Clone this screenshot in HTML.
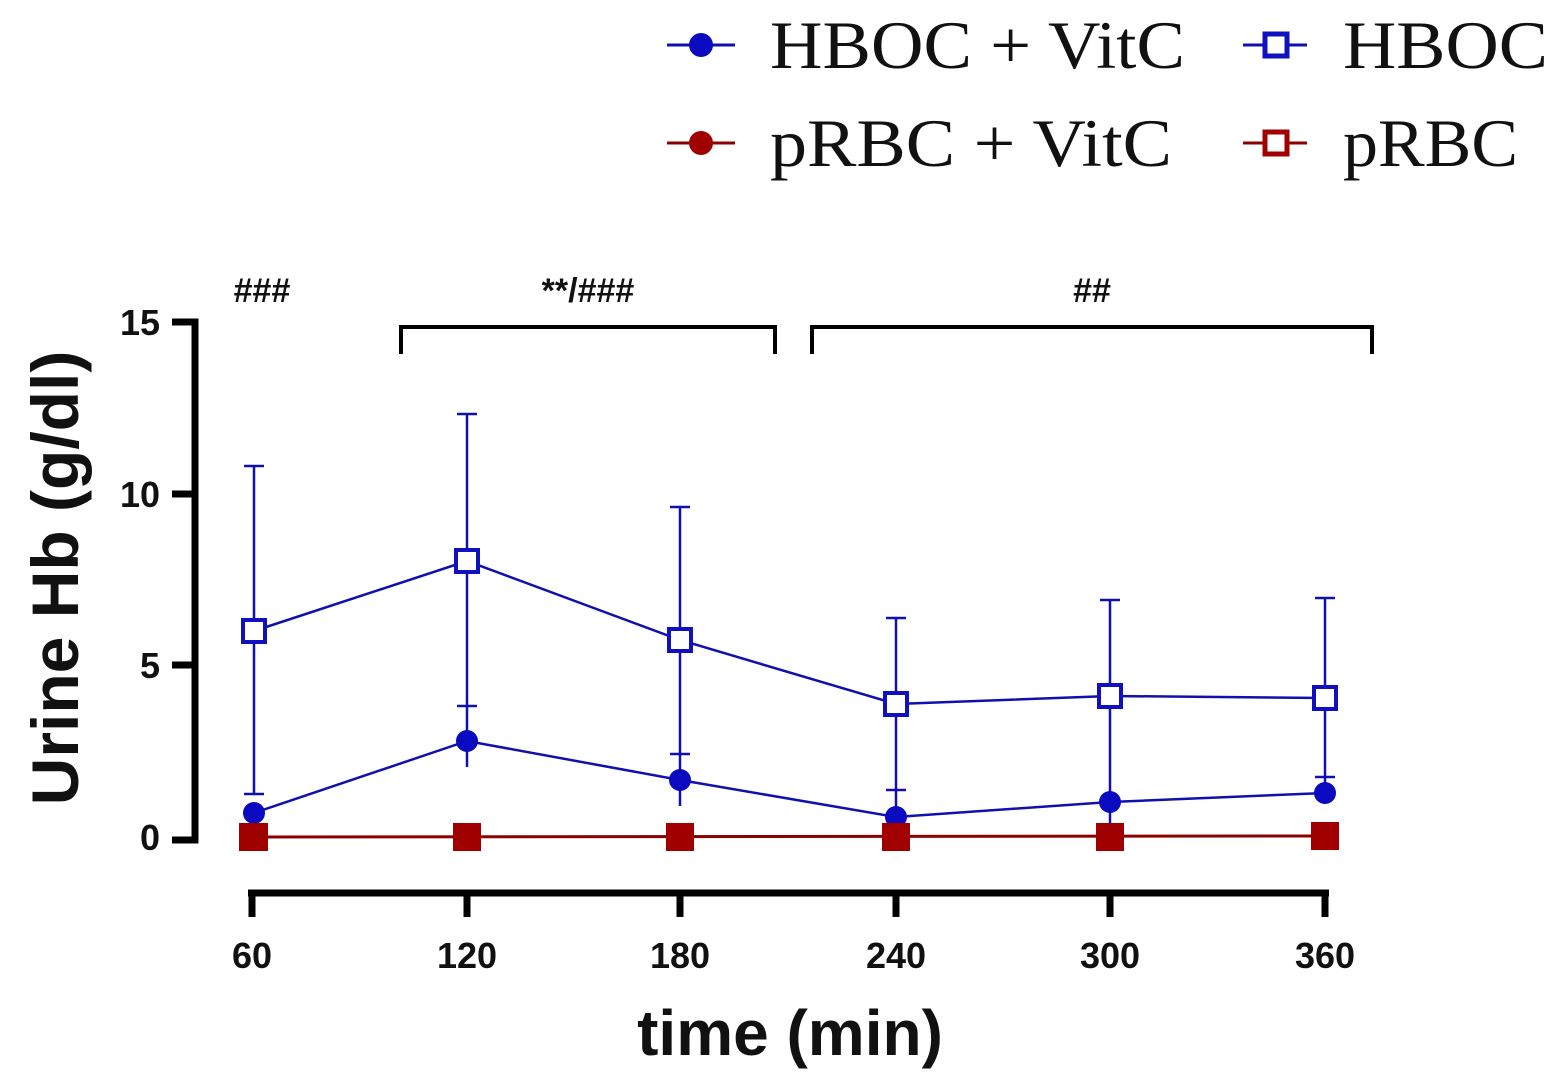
<!DOCTYPE html><html><head><style>body{margin:0;background:#fff}svg{display:block}</style></head><body>
<svg width="1561" height="1081" xmlns="http://www.w3.org/2000/svg" font-family="Liberation Sans, sans-serif">
<g font-family="Liberation Serif, serif" font-size="68" fill="#111">
<line x1="667" y1="45" x2="735" y2="45" stroke="#1010b0" stroke-width="3"/><circle cx="701" cy="45" r="12" fill="#0a0ac0"/>
<text x="770" y="68" textLength="415" lengthAdjust="spacingAndGlyphs">HBOC + VitC</text>
<line x1="1243" y1="45" x2="1307" y2="45" stroke="#1010b0" stroke-width="3"/><rect x="1265" y="34" width="22" height="22" fill="#fff" stroke="#1010c0" stroke-width="5"/>
<text x="1343" y="68" textLength="205" lengthAdjust="spacingAndGlyphs">HBOC</text>
<line x1="667" y1="143" x2="735" y2="143" stroke="#8b0000" stroke-width="3"/><circle cx="701" cy="143" r="12" fill="#a00000"/>
<text x="770" y="166" textLength="402" lengthAdjust="spacingAndGlyphs">pRBC  + VitC</text>
<line x1="1243" y1="143" x2="1307" y2="143" stroke="#8b0000" stroke-width="3"/><rect x="1265" y="132" width="22" height="22" fill="#fff" stroke="#a00000" stroke-width="5"/>
<text x="1343" y="166" textLength="175" lengthAdjust="spacingAndGlyphs">pRBC</text>
</g>
<g stroke="#000" stroke-width="7" fill="none">
<polyline points="172,322 195,322 195,840 172,840"/>
<line x1="172" y1="494" x2="195" y2="494"/><line x1="172" y1="665" x2="195" y2="665"/>
<line x1="248" y1="893" x2="1329" y2="893"/>
<line x1="252" y1="890" x2="252" y2="917"/><line x1="467" y1="890" x2="467" y2="917"/><line x1="680" y1="890" x2="680" y2="917"/><line x1="896" y1="890" x2="896" y2="917"/><line x1="1110" y1="890" x2="1110" y2="917"/><line x1="1325" y1="890" x2="1325" y2="917"/>
</g>
<g font-weight="bold" font-size="36" fill="#111">
<text x="160" y="335" text-anchor="end">15</text><text x="160" y="507" text-anchor="end">10</text><text x="160" y="678" text-anchor="end">5</text><text x="160" y="850" text-anchor="end">0</text>
<g text-anchor="middle"><text x="252" y="968">60</text><text x="467" y="968">120</text><text x="680" y="968">180</text><text x="896" y="968">240</text><text x="1110" y="968">300</text><text x="1325" y="968">360</text></g>
</g>
<text x="790" y="1055" text-anchor="middle" font-weight="bold" font-size="64" fill="#111">time (min)</text>
<text transform="translate(78,578) rotate(-90)" text-anchor="middle" font-weight="bold" font-size="66" fill="#111">Urine Hb (g/dl)</text>
<g stroke="#000" stroke-width="4" fill="none">
<polyline points="401,354 401,327 775,327 775,354"/><polyline points="812,354 812,327 1372,327 1372,354"/>
</g>
<g font-weight="bold" font-size="34" fill="#111" text-anchor="middle">
<text x="262" y="302">###</text><text x="588" y="302">**/###</text><text x="1092" y="302">##</text></g>
<g stroke="#1010b0" stroke-width="2.5" fill="none">
<polyline points="254,631 467,561 680,640 896,704 1110,696 1325,698"/>
<path d="M254,466V794M244,466H264M244,794H264M467,414V767M457,414H477M457,706H477M680,507V806M670,507H690M670,754H690M896,618V817M886,618H906M886,790H906M1110,600V837M1100,600H1120M1325,598V793M1315,598H1335M1315,777H1335"/>
<polyline points="254,813 467,741 680,780 896,817 1110,802 1325,793"/>
</g>
<g fill="#fff" stroke="#1010c0" stroke-width="4">
<rect x="243" y="620" width="22" height="22"/><rect x="456" y="550" width="22" height="22"/><rect x="669" y="629" width="22" height="22"/><rect x="885" y="693" width="22" height="22"/><rect x="1099" y="685" width="22" height="22"/><rect x="1314" y="687" width="22" height="22"/>
</g>
<g fill="#0a0ac0"><circle cx="254" cy="813" r="11"/><circle cx="467" cy="741" r="11"/><circle cx="680" cy="780" r="11"/><circle cx="896" cy="817" r="11"/><circle cx="1110" cy="802" r="11"/><circle cx="1325" cy="793" r="11"/></g>
<line x1="254" y1="837" x2="1325" y2="836" stroke="#8b0000" stroke-width="3"/>
<g fill="#a00000"><rect x="239" y="823" width="29" height="28"/><rect x="453" y="823" width="28" height="28"/><rect x="666" y="823" width="28" height="28"/><rect x="882" y="823" width="28" height="28"/><rect x="1096" y="823" width="28" height="28"/><rect x="1311" y="822" width="28" height="28"/></g>
</svg></body></html>
